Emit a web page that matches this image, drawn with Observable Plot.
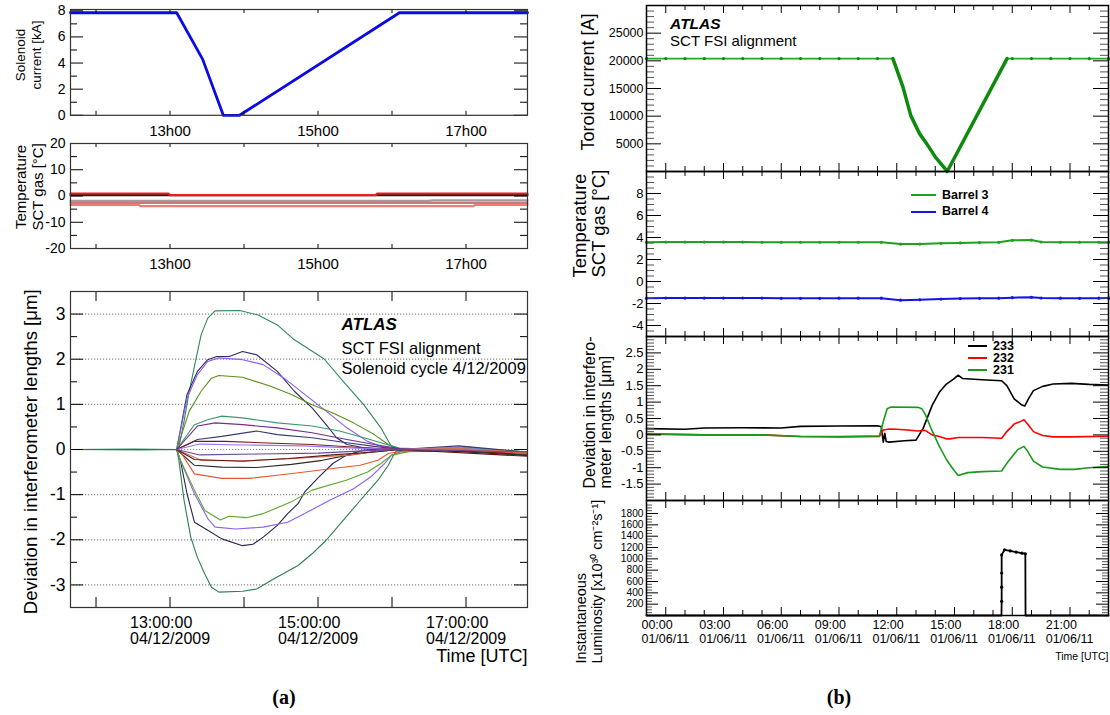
<!DOCTYPE html>
<html>
<head>
<meta charset="utf-8">
<script src="https://cdn.jsdelivr.net/npm/d3@7"></script>
<script src="https://cdn.jsdelivr.net/npm/@observablehq/plot@0.6"></script>
<style>
  html, body { margin: 0; padding: 0; background: #fff; }
  #root { position: relative; width: 1110px; height: 715px; overflow: hidden; background: #fff; font-family: "Liberation Sans", Arial, sans-serif; }
</style>
</head>
<body>
<div id="root"></div>
<script>
// ================= DATA =================
// ---- (a) Solenoid cycle 4/12/2009, time in hours (UTC) ----
const dateA = "04/12/2009";
const solenoidHours = [11.655, 13.09, 13.44, 13.72, 13.94, 16.1, 17.831];
const solenoidKA    = [7.85, 7.85, 4.3, 0, 0, 7.85, 7.85];

const tempANames  = ["black", "gray", "rose", "pink", "red"];
const tempAColors = ["#222222", "#a89a9a", "#c77a7a", "#f27a7a", "#ee1d1d"];
const tempAHours  = [
  [11.655, 17.831],
  [11.655, 16.5, 16.55, 17.831],
  [11.655, 17.831],
  [11.655, 12.58, 12.6, 17.1, 17.12, 17.831],
  [11.655, 12.98, 13.0, 15.78, 15.8, 17.831]
];
const tempAValues = [
  [0.3, 0.3],
  [-1.85, -1.85, -1.7, -1.7],
  [-2.6, -2.6],
  [-3.35, -3.35, -3.85, -3.85, -3.35, -3.35],
  [0.95, 0.95, 0.35, 0.35, 0.95, 0.95]
];

const devNames  = ["g1up","g1dn","n1up","n1dn","p1up","p1dn","o1up","o1dn","teal","plum","navy2","dred","lilac","blk","org1","org2","brn","grape"];
const devColors = ["#2e8a5c","#2a7f50","#2b2b5e","#25254f","#8a5cf5","#8b62f2","#5a8f1f","#5ea82c","#3a9a6e","#7a2a8a","#3a3a7a","#7a1a1a","#9a78f0","#2a2a2a","#e8552d","#e0704a","#5a1a10","#6a4a9a"];
const devHours = [
  [11.655,12.5,13.09,13.12,13.19,13.26,13.33,13.42,13.51,13.61,13.94,14.19,14.45,14.68,15.08,15.34,15.62,15.85,15.99,16.14,16.6,17.0,17.4,17.831],
  [11.655,12.6,13.09,13.12,13.19,13.28,13.37,13.47,13.56,13.66,13.98,14.17,14.4,14.73,14.92,15.11,15.34,15.57,15.81,15.95,16.02,16.06,16.5,17.0,17.4,17.831],
  [11.655,13.09,13.23,13.37,13.51,13.63,13.8,13.98,14.17,14.45,14.68,14.92,15.11,15.25,15.39,15.62,16.0,16.5,17.0,17.831],
  [11.655,13.09,13.14,13.23,13.33,13.51,13.7,13.98,14.12,14.26,14.45,14.59,14.73,14.82,15.01,15.2,15.38,15.62,16.0,16.5,17.0,17.831],
  [11.655,13.09,13.23,13.37,13.51,13.66,13.98,14.26,14.54,14.82,15.11,15.39,15.67,15.85,16.1,16.6,17.0,17.831],
  [11.655,13.09,13.14,13.33,13.51,13.61,13.89,14.26,14.59,14.82,15.15,15.48,15.71,15.9,15.99,16.2,16.8,17.831],
  [11.655,13.09,13.26,13.42,13.56,13.66,13.98,14.36,14.64,14.92,15.2,15.48,15.76,15.95,16.1,16.6,17.0,17.831],
  [11.655,13.09,13.14,13.33,13.47,13.68,13.8,14.03,14.26,14.64,14.92,15.38,15.67,15.85,15.99,16.3,17.0,17.831],
  [11.655,13.09,13.33,13.51,13.7,13.98,14.45,14.92,15.29,15.62,15.85,16.1,16.6,17.0,17.831],
  [11.655,13.09,13.37,13.61,13.98,14.45,14.92,15.39,15.76,16.1,16.6,17.831],
  [11.655,13.09,13.37,13.7,14.17,14.45,14.92,15.39,15.76,16.1,16.9,17.831],
  [11.655,13.09,13.33,13.75,14.22,14.92,15.62,16.1,17.0,17.831],
  [11.655,13.09,13.4,14.0,14.8,15.5,16.1,16.9,17.831],
  [11.655,13.09,13.33,13.7,14.17,14.64,15.06,15.39,15.76,16.1,16.6,17.831],
  [11.655,13.09,13.14,13.33,13.7,14.08,14.45,14.82,15.2,15.57,15.81,15.95,16.2,16.8,17.831],
  [11.655,13.09,13.42,13.98,14.68,15.38,15.76,16.1,16.9,17.831],
  [11.655,13.09,13.33,13.98,14.6,15.2,15.8,16.1,17.831],
  [11.655,13.09,13.4,14.2,15.0,15.6,16.1,17.831]
];
const devValues = [
  [0,0.01,0,0.05,0.63,1.29,1.84,2.54,2.91,3.07,3.08,2.98,2.76,2.43,2.01,1.51,0.99,0.48,0.07,-0.05,-0.04,0.04,-0.06,-0.1],
  [0,-0.01,0,-0.24,-1.13,-1.94,-2.39,-2.76,-3.05,-3.16,-3.14,-3.09,-2.87,-2.57,-2.31,-2.01,-1.57,-1.13,-0.68,-0.35,-0.13,-0.03,0.02,0.05,-0.03,-0.08],
  [0,0,1.22,1.73,1.99,2.06,2.06,2.17,2.1,1.73,1.29,0.92,0.55,0.26,0.11,0.04,0.0,-0.03,0.0,-0.12],
  [0,0,-0.24,-0.98,-1.61,-1.79,-1.98,-2.13,-2.1,-1.94,-1.68,-1.42,-1.2,-0.94,-0.61,-0.31,-0.13,-0.01,0.02,0.0,0.03,-0.09],
  [0,0,1.14,1.66,1.95,2.03,1.99,1.88,1.58,1.22,0.85,0.48,0.18,0.07,0.0,0.03,0.06,-0.1],
  [0,0,-0.24,-0.98,-1.53,-1.72,-1.76,-1.72,-1.61,-1.42,-1.13,-0.87,-0.61,-0.31,-0.13,0.0,0.04,-0.14],
  [0,0,0.85,1.29,1.58,1.64,1.6,1.4,1.22,0.99,0.81,0.59,0.33,0.11,0.01,-0.02,0.03,-0.07],
  [0,0,-0.24,-0.9,-1.35,-1.56,-1.48,-1.51,-1.42,-1.16,-0.9,-0.68,-0.5,-0.31,-0.13,-0.02,0.02,-0.11],
  [0,0,0.55,0.66,0.74,0.7,0.59,0.52,0.41,0.26,0.15,0.03,0.0,0.04,-0.05],
  [0,0,0.52,0.59,0.55,0.48,0.37,0.22,0.11,0.02,-0.02,-0.08],
  [0,0,0.22,0.29,0.41,0.33,0.26,0.15,0.07,0.0,0.08,-0.06],
  [0,0,0.18,0.18,0.15,0.11,0.04,0.0,-0.03,-0.12],
  [0,0,0.12,0.1,0.08,0.03,0.0,0.05,-0.1],
  [0,0,-0.35,-0.39,-0.4,-0.33,-0.24,-0.13,-0.05,0.0,-0.02,-0.13],
  [0,0,-0.05,-0.54,-0.64,-0.64,-0.57,-0.5,-0.42,-0.35,-0.24,-0.09,-0.02,0.0,-0.08],
  [0,0,-0.24,-0.25,-0.2,-0.13,-0.05,0.0,0.02,-0.06],
  [0,0,-0.22,-0.26,-0.2,-0.12,-0.05,0,-0.15],
  [0,0,-0.12,-0.1,-0.08,-0.03,0,-0.05]
];

// ---- (b) 01/06/11, time in hours (UTC) ----
const dateB = "01/06/11";
const toroidHours = [-1,0,1,2,3,4,5,6,7,8,9,10,11,11.8,12.32,12.73,13.19,13.56,14.02,14.54,14.62,17.73,18,19,20,21,22,23];
const toroidAmps  = [20400,20400,20400,20400,20400,20400,20400,20400,20400,20400,20400,20400,20400,20400,15300,10100,6800,5000,2550,400,0,20400,20400,20400,20400,20400,20400,20400];

const barrelNames  = ["Barrel 3", "Barrel 4"];
const barrelColors = ["#1fa01f", "#1414e6"];
const barrelHours  = [-1,0,1,2,3,4,5,6,7,8,9,10,11.2,12.2,13.2,14.3,15.3,16.3,17.3,18,19,19.5,20.5,21.5,22.5,23];
const barrel3 = [3.57,3.58,3.58,3.58,3.58,3.58,3.57,3.57,3.57,3.57,3.57,3.57,3.57,3.40,3.40,3.47,3.51,3.54,3.56,3.74,3.77,3.59,3.57,3.57,3.57,3.57];
const barrel4 = [-1.52,-1.5,-1.51,-1.51,-1.51,-1.5,-1.51,-1.53,-1.53,-1.53,-1.52,-1.52,-1.52,-1.70,-1.66,-1.6,-1.55,-1.53,-1.52,-1.47,-1.43,-1.5,-1.52,-1.53,-1.52,-1.51];

const fsiNames  = ["233", "232", "231"];
const fsiColors = ["#000000", "#ff0000", "#1a9a1a"];
const fsiHours = [
  [-1,1,2,4,6,7,9,11,11.2,11.3,11.38,11.45,11.6,12.4,13.0,13.37,13.84,14.21,14.58,14.95,15.19,15.41,16.43,17.45,17.72,18.1,18.47,18.65,18.84,19.1,19.58,20.13,21.06,21.98,23],
  [-1,2,5,7,9,11.1,11.3,11.6,12.0,12.55,13.1,13.47,13.84,14.21,14.58,14.76,15.2,16.43,17.45,17.72,18.1,18.47,18.61,18.84,19.1,19.58,20.13,21.06,23],
  [-1,2,5,7,9,11.1,11.25,11.5,11.7,13.1,13.3,13.47,13.84,14.21,14.58,14.95,15.19,15.69,16.43,17.45,17.8,18.28,18.61,18.8,19.1,19.58,20.5,21.24,21.98,23]
];
const fsiValues = [
  [0.19,0.17,0.21,0.22,0.21,0.26,0.27,0.28,0.25,-0.22,0.05,-0.2,-0.22,-0.18,-0.16,0.2,0.9,1.3,1.55,1.7,1.82,1.72,1.68,1.65,1.5,1.1,0.92,0.88,1.1,1.35,1.48,1.55,1.57,1.54,1.52],
  [0.02,0.0,0.0,-0.05,-0.06,-0.05,0.15,0.18,0.17,0.15,0.12,0.14,0.0,-0.05,-0.12,-0.12,-0.08,-0.08,-0.1,0.1,0.33,0.42,0.46,0.3,0.1,-0.02,-0.06,-0.06,-0.04],
  [0.04,0.0,0.0,-0.05,-0.05,-0.03,0.3,0.8,0.85,0.84,0.8,0.64,0.12,-0.34,-0.75,-1.06,-1.24,-1.15,-1.12,-1.1,-0.8,-0.45,-0.35,-0.5,-0.8,-0.98,-1.05,-1.05,-1.0,-0.96]
];

const lumiHours = [-1,17.44,17.45,17.45,17.45,17.45,17.6,17.9,18.2,18.5,18.68,18.69,23];
const lumiValues = [0,0,250,500,750,1070,1160,1140,1120,1100,1090,0,0];

// ---- tick values ----
const aHourTicks = [12,13,14,15,16,17];
const aLabelHours = [13,15,17];
const solMajor = [0,2,4,6,8], solMinor = [1,3,5,7];
const tAMajor = [-20,-10,0,10,20], tAMinor = [-15,-5,5,15];
const devMajor = [-3,-2,-1,0,1,2,3], devMinor = [-2.5,-1.5,-0.5,0.5,1.5,2.5];
const bHourTicks = d3.range(0, 24);
const bLabelHours = [0,3,6,9,12,15,18,21];
const torMajor = [5000,10000,15000,20000,25000];
const torMinor = d3.range(1, 30).map(i => i*1000).filter(v => v % 5000 !== 0);
const tBMajor = [-4,-2,0,2,4,6,8];
const tBMinor = d3.range(-9, 20).map(i => i/2).filter(v => v % 2 !== 0);
const dBMajor = [-1.5,-1,-0.5,0,0.5,1,1.5,2,2.5];
const dBMinor = d3.range(-19, 30).map(i => i/10).filter(v => Math.abs(v*2 - Math.round(v*2)) > 1e-6);
const lumMajor = [200,400,600,800,1000,1200,1400,1600,1800];
const lumMinor = d3.range(1, 40).map(i => i*50).filter(v => v % 200 !== 0);

// ================= RENDER =================
const FONT = '"Liberation Sans", Arial, Helvetica, sans-serif';
const root = document.getElementById("root");

function mkPanel({left, top, w, h, xd, yd, marks, color}) {
  const opts = {
    width: w, height: h,
    marginTop: 0, marginRight: 0, marginBottom: 0, marginLeft: 0,
    x: {domain: xd, axis: null},
    y: {domain: yd, axis: null},
    style: {position: "absolute", left: `${left}px`, top: `${top}px`, overflow: "visible",
            background: "none", fontFamily: FONT, color: "#000", maxWidth: "none"},
    marks
  };
  if (color) opts.color = color;
  root.appendChild(Plot.plot(opts));
}

function tickMarks(xd, yd, w, h, o) {
  const kx = (xd[1]-xd[0])/w, ky = (yd[1]-yd[0])/h;
  const m = [];
  const sy = (vals, len, stroke) => {
    m.push(Plot.ruleY(vals, {y: d => d, x1: () => xd[0], x2: () => xd[0] + len*kx, stroke, strokeWidth: 1}));
    m.push(Plot.ruleY(vals, {y: d => d, x1: () => xd[1] - len*kx, x2: () => xd[1], stroke, strokeWidth: 1}));
  };
  const sx = (vals, len, stroke) => {
    m.push(Plot.ruleX(vals, {x: d => d, y1: () => yd[0], y2: () => yd[0] + len*ky, stroke, strokeWidth: 1}));
    m.push(Plot.ruleX(vals, {x: d => d, y1: () => yd[1] - len*ky, y2: () => yd[1], stroke, strokeWidth: 1}));
  };
  if (o.yMinor) sy(o.yMinor, o.yMinLen, o.minorStroke || "#000");
  if (o.yMajor) sy(o.yMajor, o.yMajLen, "#000");
  if (o.xMinor) sx(o.xMinor, o.xMinLen, "#000");
  if (o.xMajor) sx(o.xMajor, o.xMajLen, "#000");
  return m;
}
const yLabels = (vals, fmt, fs, dx) => Plot.text(vals, {y: d => d, text: fmt, frameAnchor: "left", textAnchor: "end", lineAnchor: "middle", dx, fontSize: fs});
const xLabels = (vals, fmt, fs, dy, extra = {}) => Plot.text(vals, {x: d => d, text: fmt, frameAnchor: "bottom", lineAnchor: "top", dy, fontSize: fs, ...extra});
const rotTitle = (txt, o) => Plot.text([txt], {text: d => d, rotate: -90, lineAnchor: "middle", ...o});
const series = (names, hours, values) => names.flatMap((name, i) => hours[i].map((t, j) => ({name, t, v: values[i][j]})));

// ----- (a) -----
const AX = [11.655, 17.831];
const AL = 70, AW = 457;

// a1 Solenoid current
{
  const top = 8.5, h = 105.8, yd = [0, 8.1];
  const sol = solenoidHours.map((t, i) => ({t, v: solenoidKA[i]}));
  mkPanel({left: AL, top, w: AW, h, xd: AX, yd, marks: [
    Plot.line(sol, {x: "t", y: "v", stroke: "#0a0ae6", strokeWidth: 2.8}),
    ...tickMarks(AX, yd, AW, h, {yMajor: solMajor, yMajLen: 13, yMinor: solMinor, yMinLen: 7, xMajor: aHourTicks, xMajLen: 4}),
    Plot.frame({stroke: "#333", strokeWidth: 1.2}),
    yLabels(solMajor, d => String(d), 14, -5),
    xLabels(aLabelHours, d => `${d}h00`, 15, 9.7),
    rotTitle("Solenoid\ncurrent [kA]", {frameAnchor: "left", dx: 27.5 - AL, dy: -7.4, fontSize: 13.5, textAnchor: "middle", lineHeight: 1.15})
  ]});
}

// a2 Temperature
{
  const top = 143.3, h = 105, yd = [-20, 20];
  mkPanel({left: AL, top, w: AW, h, xd: AX, yd,
    color: {domain: tempANames, range: tempAColors},
    marks: [
      Plot.line(series(tempANames, tempAHours, tempAValues), {x: "t", y: "v", z: "name", stroke: "name", strokeWidth: 2.2}),
      ...tickMarks(AX, yd, AW, h, {yMajor: tAMajor, yMajLen: 13, yMinor: tAMinor, yMinLen: 7, xMajor: aHourTicks, xMajLen: 4}),
      Plot.frame({stroke: "#333", strokeWidth: 1.2}),
      yLabels(tAMajor, d => String(d), 14, -5),
      xLabels(aLabelHours, d => `${d}h00`, 15, 10),
      rotTitle("Temperature\nSCT gas [°C]", {frameAnchor: "left", dx: 28.5 - AL, dy: -9.1, fontSize: 15, textAnchor: "middle", lineHeight: 1.12})
    ]});
}

// a3 Deviation
{
  const top = 290.5, h = 316, yd = [-3.5, 3.5];
  mkPanel({left: AL, top, w: AW, h, xd: AX, yd,
    color: {domain: devNames, range: devColors},
    marks: [
      Plot.ruleY(devMajor, {y: d => d, stroke: "#8a8a8a", strokeWidth: 1.2, strokeDasharray: "1.2,1.8"}),
      Plot.line(series(devNames, devHours, devValues), {x: "t", y: "v", z: "name", stroke: "name", strokeWidth: 1.1}),
      ...tickMarks(AX, yd, AW, h, {yMajor: devMajor, yMajLen: 13, yMinor: devMinor, yMinLen: 7, xMajor: aHourTicks, xMajLen: 10}),
      Plot.frame({stroke: "#333", strokeWidth: 1.2}),
      yLabels(devMajor, d => String(d), 17.5, -5),
      xLabels(aLabelHours, d => `${d}:00:00\n${dateA}`, 16, 9.5, {textAnchor: "start", dx: -40, lineHeight: 0.98}),
      Plot.text(["Time [UTC]"], {frameAnchor: "bottom-right", textAnchor: "end", lineAnchor: "top", dy: 41.5, fontSize: 18}),
      rotTitle("Deviation in interferometer lengths [μm]", {frameAnchor: "left", dx: 31 - AL, dy: 2.3, fontSize: 18.6, textAnchor: "middle"}),
      Plot.text(["ATLAS"], {frameAnchor: "top-left", textAnchor: "start", lineAnchor: "bottom", dx: 271, dy: 38.8, fontSize: 17, fontWeight: "bold", fontStyle: "italic"}),
      Plot.text(["SCT FSI alignment"], {frameAnchor: "top-left", textAnchor: "start", lineAnchor: "bottom", dx: 271, dy: 62.8, fontSize: 16.5}),
      Plot.text(["Solenoid cycle 4/12/2009"], {frameAnchor: "top-left", textAnchor: "start", lineAnchor: "bottom", dx: 271, dy: 82.2, fontSize: 16.5})
    ]});
}

// ----- (b) -----
const BX = [-1, 23];
const BL = 646, BW = 462;
const bMajorHours = bHourTicks.filter(h => h % 3 === 0);
const bMinorHours = bHourTicks.filter(h => h % 3 !== 0);
const bxTicks = {xMajor: bMajorHours, xMajLen: 8, xMinor: bMinorHours, xMinLen: 5};

// b1 Toroid current
{
  const top = 5, h = 166, yd = [0, 30000];
  const tor = toroidHours.map((t, i) => ({t, v: toroidAmps[i]}));
  const ramp = tor.filter(d => d.t >= 11.8 && d.t <= 17.73);
  const flat = tor.filter(d => d.t < 11.8 || d.t > 17.73);
  mkPanel({left: BL, top, w: BW, h, xd: BX, yd, marks: [
    Plot.line(tor, {x: "t", y: "v", stroke: "#22aa22", strokeWidth: 1.8}),
    Plot.line(ramp, {x: "t", y: "v", stroke: "#0e8a0e", strokeWidth: 3.5}),
    Plot.dot(flat, {x: "t", y: "v", r: 1.6, fill: "#0e8a0e"}),
    ...tickMarks(BX, yd, BW, h, {yMajor: torMajor, yMajLen: 15, yMinor: torMinor, yMinLen: 8, minorStroke: "#555", ...bxTicks}),
    Plot.frame({stroke: "#000", strokeWidth: 1.5}),
    yLabels(torMajor, d => String(d), 12.5, -3),
    rotTitle("Toroid current [A]", {frameAnchor: "bottom-left", dx: 588 - BL, dy: -21, fontSize: 18, textAnchor: "start"}),
    Plot.text(["ATLAS"], {frameAnchor: "top-left", textAnchor: "start", lineAnchor: "bottom", dx: 23.6, dy: 23.3, fontSize: 15.5, fontWeight: "bold", fontStyle: "italic"}),
    Plot.text(["SCT FSI alignment"], {frameAnchor: "top-left", textAnchor: "start", lineAnchor: "bottom", dx: 23.6, dy: 40, fontSize: 15})
  ]});
}

// b2 Temperature
{
  const top = 171, h = 165, yd = [-5, 10];
  const tb = series(barrelNames, [barrelHours, barrelHours], [barrel3, barrel4]);
  mkPanel({left: BL, top, w: BW, h, xd: BX, yd,
    color: {domain: barrelNames, range: barrelColors},
    marks: [
      Plot.line(tb, {x: "t", y: "v", z: "name", stroke: "name", strokeWidth: 2}),
      Plot.dot(tb, {x: "t", y: "v", fill: "name", r: 1.6}),
      ...tickMarks(BX, yd, BW, h, {yMajor: tBMajor, yMajLen: 15, yMinor: tBMinor, yMinLen: 8, minorStroke: "#555", ...bxTicks}),
      Plot.frame({stroke: "#000", strokeWidth: 1.5}),
      yLabels(tBMajor, d => String(d), 13, -3),
      rotTitle("Temperature\nSCT gas [°C]", {frameAnchor: "bottom-left", dx: 589 - BL, dy: -59, fontSize: 18.5, textAnchor: "start", lineHeight: 1.0})
    ]});
}

// b3 Deviation
{
  const top = 336, h = 164, yd = [-2, 3];
  mkPanel({left: BL, top, w: BW, h, xd: BX, yd,
    color: {domain: fsiNames, range: fsiColors},
    marks: [
      Plot.line(series(fsiNames, fsiHours, fsiValues), {x: "t", y: "v", z: "name", stroke: "name", strokeWidth: 1.6}),
      ...tickMarks(BX, yd, BW, h, {yMajor: dBMajor, yMajLen: 15, yMinor: dBMinor, yMinLen: 8, minorStroke: "#555", ...bxTicks}),
      Plot.frame({stroke: "#000", strokeWidth: 1.5}),
      yLabels(dBMajor, d => String(d), 13, -3),
      rotTitle("Deviation in interfero-\nmeter lengths [μm]", {frameAnchor: "bottom-left", dx: 597 - BL, dy: -12, fontSize: 16, textAnchor: "start", lineHeight: 1.0})
    ]});
}

// b4 Luminosity
{
  const top = 500, h = 115, yd = [0, 2030];
  const lum = lumiHours.map((t, i) => ({t, v: lumiValues[i]}));
  mkPanel({left: BL, top, w: BW, h, xd: BX, yd, marks: [
    Plot.line(lum, {x: "t", y: "v", stroke: "#000", strokeWidth: 1.8}),
    Plot.dot(lum.filter(d => d.v > 0 && d.t < 18.69), {x: "t", y: "v", r: 1.6, fill: "#000"}),
    ...tickMarks(BX, yd, BW, h, {yMajor: lumMajor, yMajLen: 12, yMinor: lumMinor, yMinLen: 6, minorStroke: "#555", ...bxTicks}),
    Plot.frame({stroke: "#000", strokeWidth: 1.5}),
    yLabels(lumMajor, d => String(d), 10.2, -3),
    xLabels(bLabelHours, d => `${String(d).padStart(2, "0")}:00\n${dateB}`, 12.5, 4.3, {textAnchor: "start", dx: -24.3, lineHeight: 1.07}),
    Plot.text(["Time [UTC]"], {frameAnchor: "bottom-right", textAnchor: "end", lineAnchor: "top", dy: 37, fontSize: 10.5}),
    rotTitle("Instantaneous\nLuminosity [x10³⁰ cm⁻²s⁻¹]", {frameAnchor: "bottom-left", dx: 588 - BL, dy: 48, fontSize: 14.4, textAnchor: "start", lineHeight: 1.1})
  ]});
}

// ----- legends (b2, b3) -----
function legend(names, colors, x, y0, step, lineW, fs) {
  names.forEach((label, i) => {
    const y = y0 + i*step;
    const ln = document.createElement("div");
    ln.style.cssText = `position:absolute;left:${x}px;top:${y-1}px;width:${lineW}px;height:0;border-top:2px solid ${colors[i]};`;
    root.appendChild(ln);
    const tx = document.createElement("div");
    tx.textContent = label;
    tx.style.cssText = `position:absolute;left:${x+lineW+6}px;top:${y - fs*0.52}px;font-weight:bold;font-size:${fs}px;line-height:${fs}px;height:${fs}px;font-family:${FONT};white-space:nowrap;`;
    root.appendChild(tx);
  });
}
legend(barrelNames, barrelColors, 911, 195, 16.7, 25, 12.5);
legend(fsiNames, fsiColors, 968, 346, 12.2, 19, 12.5);

// ----- captions -----
function caption(txt, cx, baseline) {
  const d = document.createElement("div");
  d.textContent = txt;
  d.style.cssText = `position:absolute;left:${cx-40}px;width:80px;top:${baseline-16}px;text-align:center;font:bold 20px "Liberation Serif","DejaVu Serif",serif;line-height:20px;`;
  root.appendChild(d);
}
caption("(a)", 284, 703);
caption("(b)", 839, 703);
</script>
</body>
</html>
